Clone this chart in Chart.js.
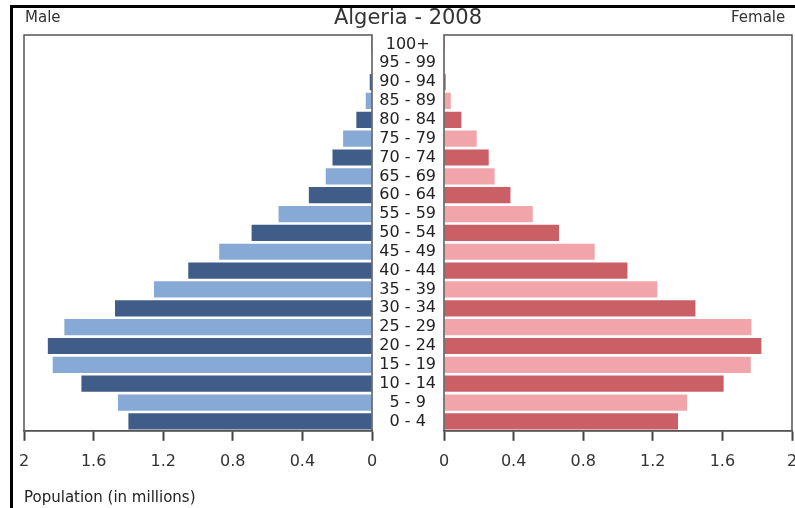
<!DOCTYPE html>
<html>
<head>
<meta charset="utf-8">
<script src="https://cdn.jsdelivr.net/npm/chart.js@4"></script>
<style>
  html { overflow: hidden; }
  body { margin: 0; background: #fff; width: 820px; height: 508px; overflow: hidden; position: relative; font-family: "DejaVu Sans", sans-serif; }
  canvas { position: absolute; top: 0; }
  #maleChart { left: 0; }
  #femaleChart { left: 372px; }
  .edgeTop { position: absolute; left: 10px; top: 5px; width: 800px; height: 3px; background: #000; }
  .edgeLeft { position: absolute; left: 10px; top: 5px; width: 3px; height: 510px; background: #000; }
  .lbl { position: absolute; color: #333; white-space: nowrap; }
</style>
</head>
<body>
<canvas id="maleChart" width="380" height="508"></canvas>
<canvas id="femaleChart" width="440" height="508"></canvas>
<div class="edgeTop"></div>
<div class="edgeLeft"></div>
<div class="lbl" style="left:25px; top:8px; font-size:15px;">Male</div>
<div class="lbl" style="left:731px; top:8px; font-size:15px;">Female</div>
<div class="lbl" style="left:408px; top:5px; font-size:21px; transform:translateX(-50%);">Algeria - 2008</div>
<div class="lbl" style="left:24px; top:488px; font-size:15px; color:#222;">Population (in millions)</div>
<script>
// Altersgruppen von unten nach oben
const ageGroups = ['0 - 4', '5 - 9', '10 - 14', '15 - 19', '20 - 24', '25 - 29', '30 - 34',
    '35 - 39', '40 - 44', '45 - 49', '50 - 54', '55 - 59', '60 - 64', '65 - 69',
    '70 - 74', '75 - 79', '80 - 84', '85 - 89', '90 - 94', '95 - 99', '100+'];

// Bevölkerung in Millionen
const male = [1.40, 1.46, 1.67, 1.835, 1.863, 1.768, 1.477, 1.253, 1.056, 0.878, 0.692,
    0.537, 0.363, 0.266, 0.227, 0.166, 0.090, 0.036, 0.013, 0.003, 0.001];
const female = [1.345, 1.397, 1.607, 1.763, 1.824, 1.767, 1.445, 1.226, 1.054, 0.866, 0.661,
    0.510, 0.382, 0.291, 0.257, 0.188, 0.100, 0.039, 0.010, 0.003, 0.001];

const xTicks = [0, 0.4, 0.8, 1.2, 1.6, 2];

const maleColors = ['#3f5d88', '#87a9d5'];
const femaleColors = ['#cb5f66', '#f1a5ab'];

// Rahmen um die Zeichenfläche
const frame = {
    id: 'frame',
    afterDatasetsDraw(chart) {
        const a = chart.chartArea;
        const ctx = chart.ctx;
        ctx.save();
        ctx.strokeStyle = '#555';
        ctx.lineWidth = 1.5;
        ctx.strokeRect(a.left, a.top, a.right - a.left, a.bottom - a.top);
        ctx.restore();
    }
};

function xScale(reverse) {
    return {
        type: 'linear',
        min: 0,
        max: 2,
        reverse: reverse,
        afterBuildTicks: (scale) => { scale.ticks = xTicks.map(v => ({ value: v })); },
        ticks: {
            color: '#333',
            font: { size: 16, family: 'DejaVu Sans' },
            padding: 11,
            callback: (v) => String(Math.round(v * 10) / 10)
        },
        grid: { drawOnChartArea: false, drawTicks: true, tickLength: 10, tickColor: '#444', tickWidth: 2 },
        border: { display: true, color: '#444', width: 1.5 }
    };
}

function colorsFor(pair) {
    return ageGroups.map((_, i) => pair[i % 2]);
}

new Chart(document.getElementById('maleChart'), {
    type: 'bar',
    data: {
        labels: ageGroups,
        datasets: [{ data: male, backgroundColor: colorsFor(maleColors), barPercentage: 0.86, categoryPercentage: 1 }]
    },
    options: {
        indexAxis: 'y',
        responsive: false,
        animation: false,
        layout: { padding: { left: 24, right: 8, top: 35, bottom: 26 } },
        plugins: { legend: { display: false }, tooltip: { enabled: false } },
        scales: {
            x: xScale(true),
            y: { reverse: true, display: false }
        }
    },
    plugins: [frame]
});

new Chart(document.getElementById('femaleChart'), {
    type: 'bar',
    data: {
        labels: ageGroups,
        datasets: [{ data: female, backgroundColor: colorsFor(femaleColors), barPercentage: 0.86, categoryPercentage: 1 }]
    },
    options: {
        indexAxis: 'y',
        responsive: false,
        animation: false,
        layout: { padding: { left: 0, right: 20, top: 35, bottom: 26 } },
        plugins: { legend: { display: false }, tooltip: { enabled: false } },
        scales: {
            x: xScale(false),
            y: {
                reverse: true,
                position: 'left',
                afterFit: (scale) => { scale.width = 72; },
                ticks: { color: '#222', font: { size: 16, family: 'DejaVu Sans' }, crossAlign: 'center', padding: 8, autoSkip: false },
                grid: { display: false, drawTicks: false },
                border: { display: false }
            }
        }
    },
    plugins: [frame]
});
</script>
</body>
</html>
